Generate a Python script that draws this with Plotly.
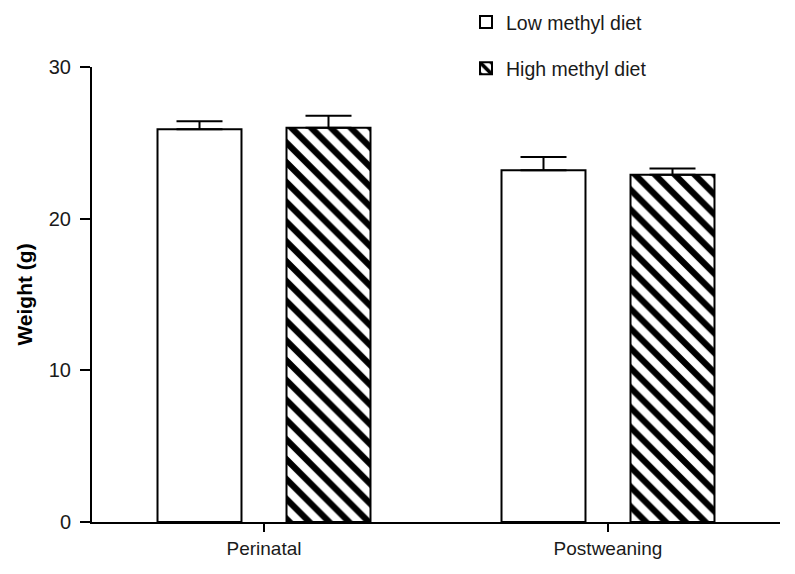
import plotly.graph_objects as go

categories = ["Perinatal", "Postweaning"]
low_values = [25.9, 23.2]
low_errors = [0.53, 0.86]
high_values = [26.0, 22.9]
high_errors = [0.79, 0.40]
y_ticks = [0, 10, 20, 30]

FONT = "Liberation Sans, Arial, sans-serif"

fig = go.Figure()
fig.add_trace(go.Bar(
    name="Low methyl diet", x=categories, y=low_values,
    legendgroup="low",
    marker=dict(color="white", line=dict(color="black", width=2)),
    error_y=dict(type="data", array=low_errors, arrayminus=[0, 0], symmetric=False,
                 color="black", thickness=2, width=23),
))
fig.add_trace(go.Bar(
    name="High methyl diet", x=categories, y=high_values,
    legendgroup="high",
    marker=dict(color="white", line=dict(color="black", width=2),
                pattern=dict(shape="\\", fgcolor="black", bgcolor="white",
                             size=14, solidity=0.45, fillmode="replace")),
    error_y=dict(type="data", array=high_errors, arrayminus=[0, 0], symmetric=False,
                 color="black", thickness=2, width=23),
))

fig.update_layout(
    width=795, height=574,
    margin=dict(l=84, r=23, t=59, b=60, autoexpand=False),
    paper_bgcolor="white", plot_bgcolor="white",
    font=dict(family=FONT, size=19, color="#1a1a1a"),
    barmode="group", bargap=0.25, bargroupgap=0.349,
    showlegend=True,
    legend=dict(x=0.5436, y=1.141, xanchor="left", yanchor="top",
                traceorder="grouped", tracegroupgap=18,
                font=dict(family=FONT, size=19.5, color="#1a1a1a"),
                bgcolor="rgba(0,0,0,0)"),
    xaxis=dict(showline=True, linecolor="black", linewidth=2,
               ticks="outside", ticklen=8, tickwidth=2, tickcolor="black",
               showgrid=False, zeroline=False,
               tickfont=dict(family=FONT, size=19, color="#1a1a1a")),
    yaxis=dict(range=[0, 30], tickvals=y_ticks, showline=True, linecolor="black", linewidth=2,
               ticks="outside", ticklen=10, tickwidth=2, tickcolor="black",
               ticklabelstandoff=5, automargin=True,
               showgrid=False, zeroline=False,
               tickfont=dict(family=FONT, size=20, color="#1a1a1a")),
)
fig.update_yaxes(title=dict(text="<b>Weight (g)</b>",
                            font=dict(family=FONT, size=21, color="black"),
                            standoff=10))

fig.write_html("out.html")
